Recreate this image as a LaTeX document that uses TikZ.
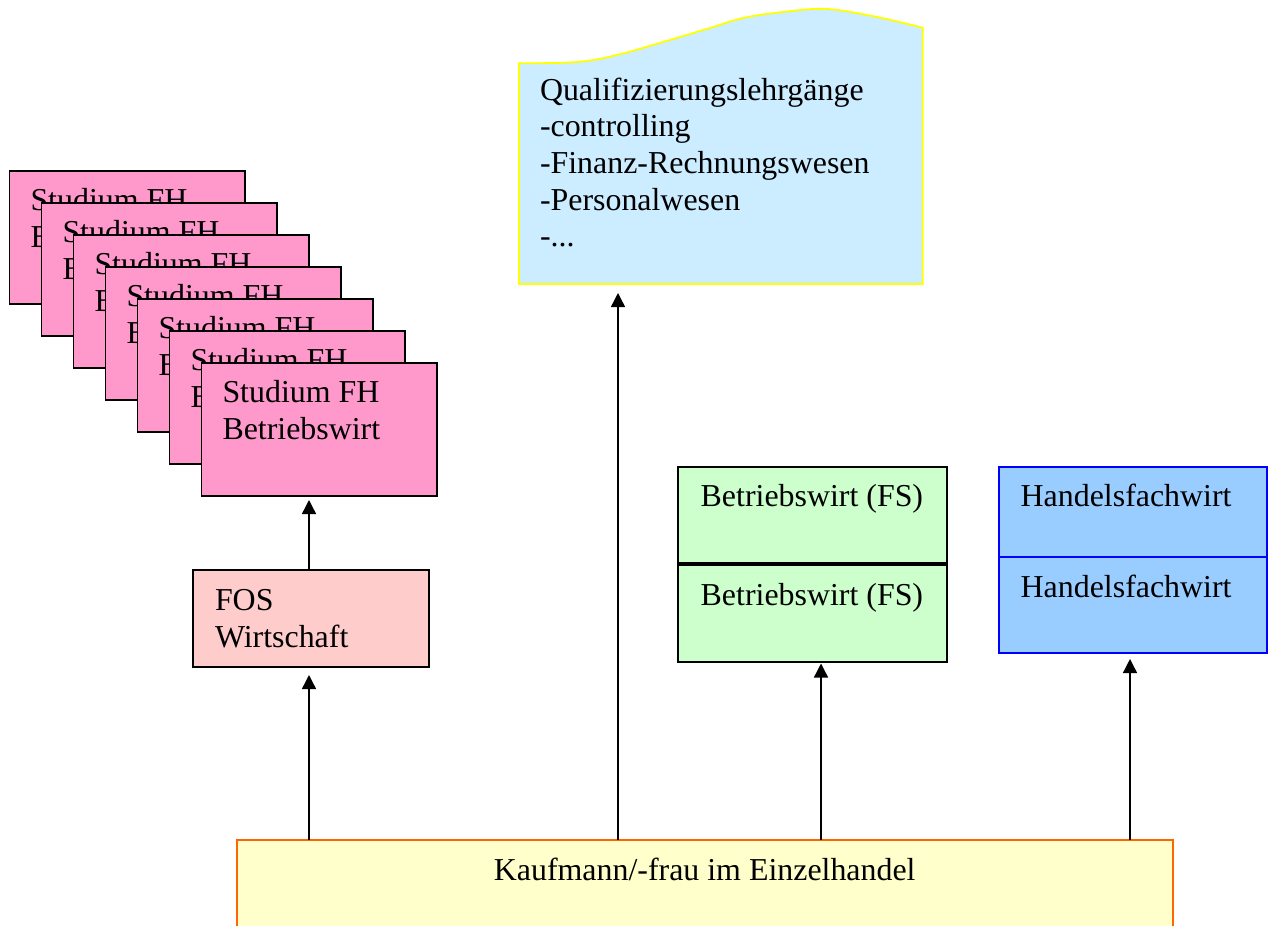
\documentclass[tikz,border=0pt]{standalone}
\usepackage{fontspec}
\setmainfont{Liberation Serif}
\usetikzlibrary{arrows.meta}
\definecolor{pinkfill}{HTML}{FF99CC}
\definecolor{fosfill}{HTML}{FFCCCC}
\definecolor{greenfill}{HTML}{CCFFCC}
\definecolor{bluefill}{HTML}{99CCFF}
\definecolor{blueline}{HTML}{0000FF}
\definecolor{docfill}{HTML}{CCECFF}
\definecolor{docline}{HTML}{FFFF00}
\definecolor{kauffill}{HTML}{FFFFCC}
\definecolor{kaufline}{HTML}{FF6600}
\newcommand{\lns}[1]{\begin{tabular}[t]{@{}l@{}}#1\end{tabular}}
\tikzset{
  box/.style={draw=black, line width=1.8pt, anchor=north west, inner sep=0pt, outer sep=0pt},
  lbl/.style={anchor=base west, inner sep=0pt, outer sep=0pt, font=\fontsize{31.9pt}{36.7pt}\selectfont},
  arr/.style={line width=1.4pt, -{Triangle[width=14pt,length=14pt]}}
}
\begin{document}
\begin{tikzpicture}[x=1pt,y=-1pt]
\fill[white] (0,0) rectangle (1268,926);
\useasboundingbox (0,0) rectangle (1268,926);

% stacked pink boxes
\foreach \i in {0,...,6}{
  \node[box, fill=pinkfill, minimum width=235.5pt, minimum height=133pt] (p\i) at (9.5+32*\i,170.7+32*\i) {};
  \node[lbl] (pt\i) at ([xshift=21pt,yshift=-40pt]p\i.north west) {\lns{Studium FH\\Betriebswirt}};
}

% FOS
\node[box, fill=fosfill, minimum width=235.7pt, minimum height=96.7pt] (fos) at (193.3,570) {};
\node[lbl] (fost) at ([xshift=21.7pt,yshift=-40.7pt]fos.north west) {\lns{FOS\\Wirtschaft}};

% Qualifizierung document shape
\path[fill=docfill, draw=docline, line width=1.8pt]
  (519,284) -- plot[smooth, tension=0.6] coordinates {(519,63.3) (577,62) (617,55) (663,42) (710,28) (743,18) (783,12) (827,9) (877,17) (922.7,27.7)} -- (922.7,284) -- cycle;
\node[lbl] (qt) at (540,100) {\lns{Qualifizierungslehrgänge\\-controlling\\-Finanz-Rechnungswesen\\-Personalwesen\\-...}};

% Betriebswirt (FS)
\node[box, fill=greenfill, minimum width=268.5pt, minimum height=96pt] (g1) at (678.3,466.7) {};
\node[lbl] (g1t) at ([xshift=22.4pt,yshift=-40pt]g1.north west) {Betriebswirt (FS)};
\node[box, fill=greenfill, minimum width=268.5pt, minimum height=96.7pt] (g2) at (678.3,565) {};
\node[lbl] (g2t) at ([xshift=22.4pt,yshift=-40.7pt]g2.north west) {Betriebswirt (FS)};

% Handelsfachwirt
\node[box, draw=blueline, fill=bluefill, minimum width=267.7pt, minimum height=90pt] (h1) at (999,466.7) {};
\node[lbl] (h1t) at ([xshift=21.7pt,yshift=-40pt]h1.north west) {Handelsfachwirt};
\node[box, draw=blueline, fill=bluefill, minimum width=267.7pt, minimum height=96.3pt] (h2) at (999,557) {};
\node[lbl] (h2t) at ([xshift=21.7pt,yshift=-40.7pt]h2.north west) {Handelsfachwirt};

% Kaufmann box (cut off at bottom)
\node[anchor=north west, inner sep=0pt, outer sep=0pt, fill=kauffill, minimum width=936pt, minimum height=86pt] (kauf) at (236.7,840) {};
\draw[kaufline, line width=1.8pt] (kauf.south west) -- (kauf.north west) -- (kauf.north east) -- (kauf.south east);
\node[lbl, anchor=base] (kt) at (704.7,880.7) {Kaufmann/-frau im Einzelhandel};

% arrow tips
\coordinate (t1) at (309,500);
\coordinate (t2) at (309,675);
\coordinate (t3) at (618,293);
\coordinate (t4) at (821,663.5);
\coordinate (t5) at (1130,659);

\draw[arr] (fos.north -| t1) -- (t1);
\draw[arr] (kauf.north -| t2) -- (t2);
\draw[arr] (kauf.north -| t3) -- (t3);
\draw[arr] (kauf.north -| t4) -- (t4);
\draw[arr] (kauf.north -| t5) -- (t5);
\end{tikzpicture}
\end{document}
